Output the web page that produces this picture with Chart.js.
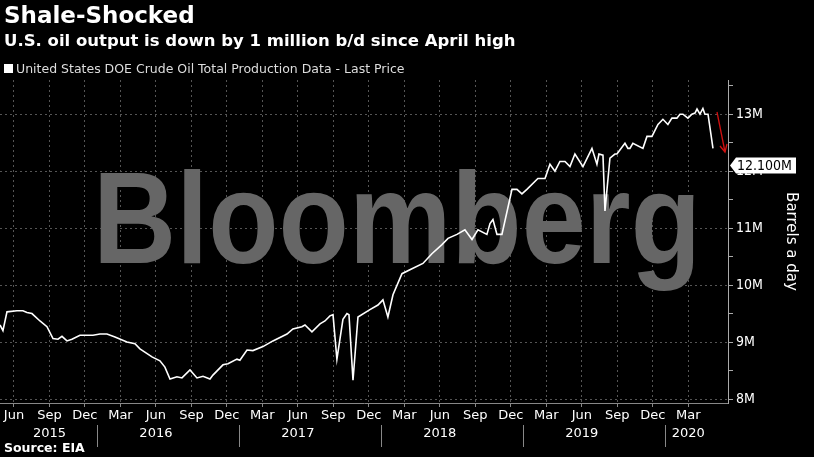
<!DOCTYPE html>
<html><head><meta charset="utf-8">
<script src="https://cdn.jsdelivr.net/npm/chart.js@4"></script>
<style>
body{margin:0;background:#000;width:814px;height:457px;overflow:hidden;font-family:"DejaVu Sans",sans-serif;color:#fff}
#wrap{position:absolute;left:0;top:0;width:814px;height:457px}
.t{position:absolute;left:4px;white-space:nowrap}
</style></head><body>
<div id="wrap"><canvas id="c" width="814" height="457"></canvas></div>
<div class="t" style="top:2px;font-size:23px;font-weight:bold">Shale-Shocked</div>
<div class="t" style="top:31px;font-size:16.5px;font-weight:bold">U.S. oil output is down by 1 million b/d since April high</div>
<div class="t" style="top:61px;font-size:12.5px;color:#ddd"><span style="display:inline-block;width:9px;height:9px;background:#fff;margin-right:3px"></span>United States DOE Crude Oil Total Production Data - Last Price</div>
<div class="t" style="top:440px;font-size:12.5px;font-weight:bold">Source: EIA</div>
<script>
//months since Jan 2015
const months = [3.82,4.07,4.41,5.25,5.76,6.1,6.52,7.2,7.79,8.3,8.72,9.06,9.48,9.9,10.58,11.17,11.68,12.27,12.86,13.54,14.55,15.23,15.65,16.67,17.34,17.76,18.19,18.78,19.2,19.88,20.47,20.98,21.57,21.82,22.67,23.09,23.85,24.1,24.7,25.2,26.05,26.89,28.08,28.58,29.34,29.6,30.19,30.87,31.29,31.71,31.97,32.3,32.81,33.15,33.32,33.66,34.08,35.09,35.77,36.19,36.61,37.04,37.8,38.47,39.57,40.33,41.18,41.69,42.45,43.12,43.72,44.22,44.98,45.24,45.49,45.83,46.25,47.1,47.52,47.94,48.36,49.29,49.89,50.31,50.73,51.15,51.58,52.0,52.42,53.1,53.86,54.28,54.45,54.79,54.96,55.38,55.8,55.97,56.65,56.9,57.07,57.32,58.17,58.51,58.93,59.44,59.86,60.28,60.62,61.04,61.3,61.55,61.97,62.31,62.57,62.74,62.99,63.24,63.41,63.67,64.09];
//million barrels per day
const output = [9.30,9.20,9.53,9.55,9.55,9.52,9.50,9.37,9.27,9.06,9.05,9.10,9.02,9.05,9.12,9.12,9.12,9.14,9.14,9.09,9.00,8.97,8.88,8.74,8.67,8.56,8.35,8.39,8.37,8.51,8.37,8.40,8.35,8.42,8.60,8.62,8.70,8.68,8.86,8.85,8.92,9.02,9.14,9.23,9.27,9.30,9.18,9.32,9.37,9.46,9.48,8.70,9.40,9.50,9.48,8.33,9.44,9.57,9.65,9.74,9.44,9.83,10.20,10.27,10.38,10.55,10.71,10.82,10.89,10.97,10.80,10.97,10.89,11.08,11.15,10.89,10.89,11.68,11.68,11.60,11.68,11.87,11.87,12.12,12.00,12.17,12.17,12.08,12.30,12.08,12.40,12.12,12.30,12.28,11.30,12.23,12.30,12.30,12.49,12.40,12.40,12.49,12.40,12.61,12.61,12.82,12.91,12.82,12.93,12.93,13.00,13.00,12.93,13.00,13.02,13.09,13.00,13.10,13.00,13.00,12.40,12.31,12.10];
const monthNames = ['Jan','Feb','Mar','Apr','May','Jun','Jul','Aug','Sep','Oct','Nov','Dec'];
const quarterTicks = [5,8,11,14,17,20,23,26,29,32,35,38,41,44,47,50,53,56,59,62];
const years = [[2015,8],[2016,17],[2017,29],[2018,41],[2019,53],[2020,62]];
const lastLabel = '12.100M';

const extras = {
  id:'extras',
  beforeDatasetsDraw(ch){
    const c=ch.ctx;
    c.save();
    c.fillStyle='#666';
    c.font='bold 130px "Liberation Sans", Arial, sans-serif';
    c.textBaseline='alphabetic';
    const w=c.measureText('Bloomberg').width;
    c.translate(93,263); c.scale(608/w,1);
    c.fillText('Bloomberg',0,0);
    c.restore();
  },
  afterDraw(ch){
    const c=ch.ctx, x=ch.scales.x, y=ch.scales.y, a=ch.chartArea;
    c.save();
    c.fillStyle='#fff'; c.font='13px "DejaVu Sans", sans-serif'; c.textAlign='center'; c.textBaseline='middle';
    years.forEach(([yr,m])=>{
      c.fillText(String(yr),x.getPixelForValue(m),434);
    });
    c.strokeStyle='#888'; c.lineWidth=1;
    [12,24,36,48,60].forEach(m=>{
      let px=Math.round(x.getPixelForValue(m))+0.5;
      c.beginPath(); c.moveTo(px,a.bottom+22); c.lineTo(px,a.bottom+44); c.stroke();
    });
    // last value box
    const ly=y.getPixelForValue(output[output.length-1]);
    c.fillStyle='#fff';
    c.beginPath(); c.moveTo(a.right+2,ly); c.lineTo(a.right+8,ly-8); c.lineTo(a.right+68,ly-8);
    c.lineTo(a.right+68,ly+8); c.lineTo(a.right+8,ly+8); c.closePath(); c.fill();
    c.fillStyle='#000'; c.textAlign='left';
    c.font='14px "DejaVu Sans Condensed", sans-serif';
    c.fillText(lastLabel,a.right+9,ly+1);
    // red arrow
    c.strokeStyle='#d01010'; c.lineWidth=1.3;
    c.beginPath(); c.moveTo(717,112); c.lineTo(725,152); c.stroke();
    c.beginPath(); c.moveTo(720,146); c.lineTo(725,152); c.lineTo(727,144); c.stroke();
    c.restore();
  }
};

new Chart(document.getElementById('c'),{
  type:'line',
  data:{datasets:[{data:months.map((m,i)=>({x:m,y:output[i]})),borderColor:'#fff',borderWidth:1.6,pointRadius:0,tension:0}]},
  options:{
    responsive:false,animation:false,
    layout:{padding:{top:80,left:0,right:0,bottom:0}},
    plugins:{legend:{display:false},tooltip:{enabled:false}},
    scales:{
      x:{type:'linear',min:3.82,max:65.36,
        afterBuildTicks(s){s.ticks=quarterTicks.map(v=>({value:v}));},
        ticks:{color:'#fff',font:{size:13,family:'"DejaVu Sans", sans-serif'},maxRotation:0,autoSkip:false,padding:1,
          callback:v=>monthNames[v%12]},
        grid:{color:'#555',drawTicks:true,tickLength:4,tickColor:'#888'},
        border:{color:'#888',dash:[2,3]},
        afterFit(s){s.height=54;}
      },
      y:{position:'right',min:7.93,max:13.6,
        afterBuildTicks(s){s.ticks=[8,8.5,9,9.5,10,10.5,11,11.5,12,12.5,13,13.5].map(v=>({value:v}));},
        ticks:{color:'#fff',font:{size:14,family:'"DejaVu Sans Condensed", sans-serif'},padding:3,
          callback:v=>Number.isInteger(v)?v+'M':''},
        grid:{color:c=>Number.isInteger(c.tick.value)?'#555':'rgba(0,0,0,0)',drawTicks:true,tickLength:5,tickColor:'#aaa'},
        border:{color:'#aaa',dash:[2,3]},
        title:{display:true,text:'Barrels a day',color:'#fff',font:{size:15,family:'"DejaVu Sans", sans-serif'},padding:{top:14,bottom:0}},
        afterFit(s){s.width=86;}
      }
    }
  },
  plugins:[extras]
});
</script>
</body></html>
